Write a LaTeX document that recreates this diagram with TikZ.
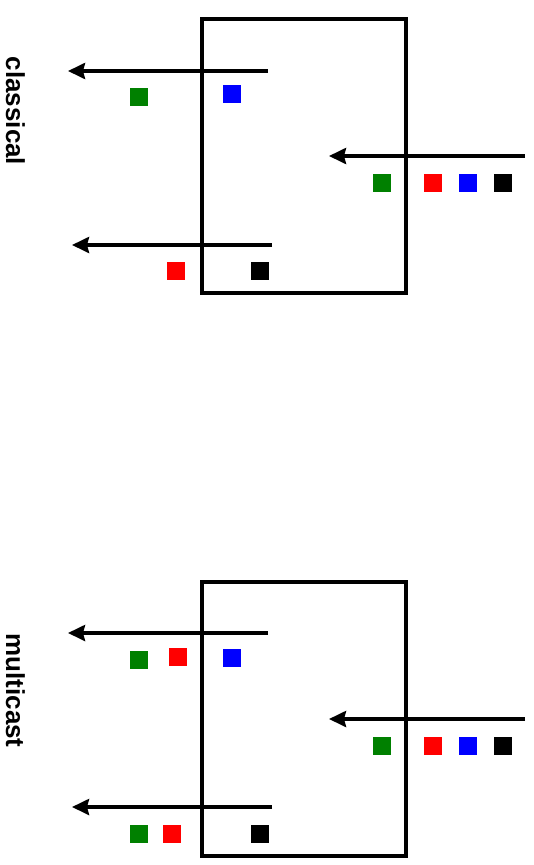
\documentclass[tikz,border=0pt]{standalone}
\usepackage{fontspec}
\setmainfont{Liberation Sans}
\usepackage{tikz}
\usetikzlibrary{arrows.meta}
\definecolor{pktgreen}{RGB}{0,128,0}

\begin{document}
\begin{tikzpicture}[x=1pt, y=-1pt,
    packet/.style={minimum size=18pt, inner sep=0pt, outer sep=0pt},
    flow/.style={line width=3.5pt, -{Stealth[length=17pt, width=16pt, inset=2pt]}},
    switchbox/.style={draw, line width=3.2pt, minimum width=204pt, minimum height=274pt, inner sep=0pt},
    mode/.style={font=\bfseries\fontsize{26}{26}\selectfont, rotate=-90, anchor=base, inner sep=0pt}]

    \useasboundingbox (0,0) rectangle (534,865);

    % TOP: classical
    \node[mode] (classical) at (6,111) {classical};
    \node[switchbox] (swA) at (304,156) {};
    \coordinate (inA) at (525,156);   \coordinate (inAtip) at (329,156);
    \coordinate (outA1) at (268,71);  \coordinate (outA1tip) at (68,71);
    \coordinate (outA2) at (272,245); \coordinate (outA2tip) at (72,245);
    \draw[flow] (inA) -- (inAtip);
    \draw[flow] (outA1) -- (outA1tip);
    \draw[flow] (outA2) -- (outA2tip);
    \node[packet, fill=pktgreen] (inAg) at (381.5,183) {};
    \node[packet, fill=red]      (inAr) at (433,183) {};
    \node[packet, fill=blue]     (inAb) at (468,183) {};
    \node[packet, fill=black]    (inAk) at (502.5,183) {};
    \node[packet, fill=pktgreen] (outA1g) at (138.5,97) {};
    \node[packet, fill=blue]     (outA1b) at (231.5,94) {};
    \node[packet, fill=red]      (outA2r) at (175.5,271) {};
    \node[packet, fill=black]    (outA2k) at (260,271) {};

    % BOTTOM: multicast
    \begin{scope}[yshift=-563pt]
        \node[mode] (multicast) at (6,127.5) {multicast};
        \node[switchbox] (swB) at (304,156) {};
        \coordinate (inB) at (525,156);   \coordinate (inBtip) at (329,156);
        \coordinate (outB1) at (268,70);  \coordinate (outB1tip) at (68,70);
        \coordinate (outB2) at (272,244); \coordinate (outB2tip) at (72,244);
        \draw[flow] (inB) -- (inBtip);
        \draw[flow] (outB1) -- (outB1tip);
        \draw[flow] (outB2) -- (outB2tip);
        \node[packet, fill=pktgreen] (inBg) at (381.5,183) {};
        \node[packet, fill=red]      (inBr) at (433,183) {};
        \node[packet, fill=blue]     (inBb) at (468,183) {};
        \node[packet, fill=black]    (inBk) at (502.5,183) {};
        \node[packet, fill=pktgreen] (outB1g) at (138.5,97) {};
        \node[packet, fill=red]      (outB1r) at (178,94) {};
        \node[packet, fill=blue]     (outB1b) at (231.5,94.5) {};
        \node[packet, fill=pktgreen] (outB2g) at (138.5,271) {};
        \node[packet, fill=red]      (outB2r) at (171.5,271) {};
        \node[packet, fill=black]    (outB2k) at (260,271) {};
    \end{scope}

\end{tikzpicture}
\end{document}
